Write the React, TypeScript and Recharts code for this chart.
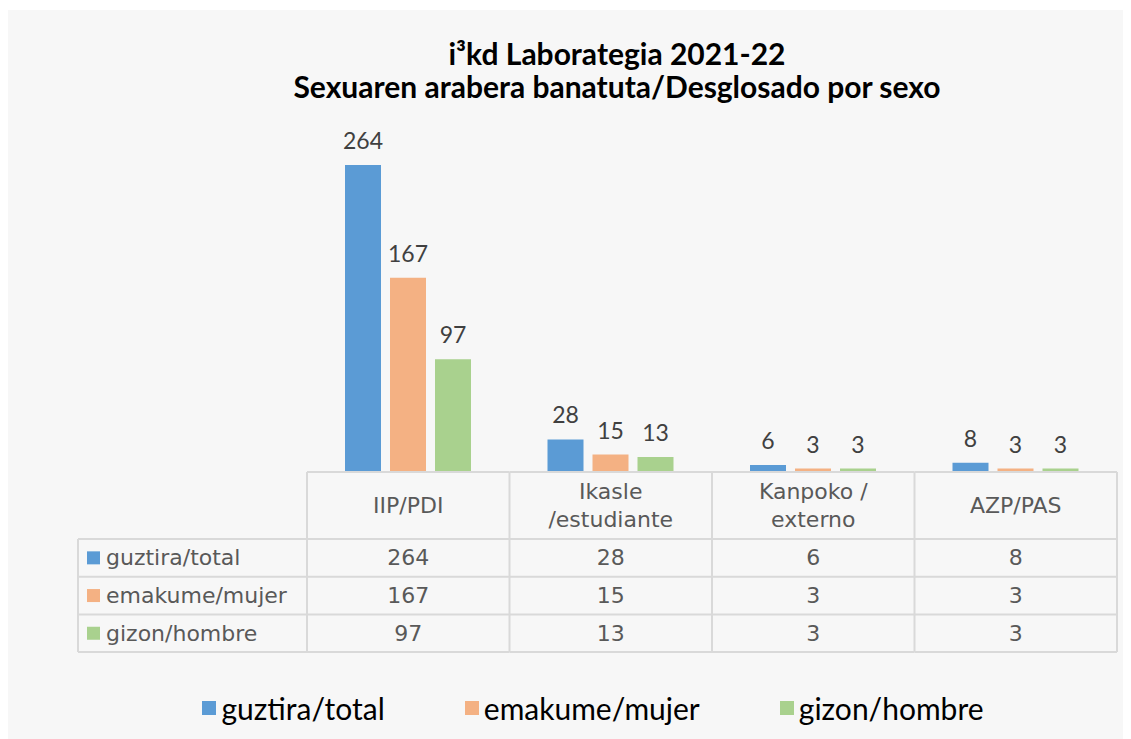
import React from 'react';
import { BarChart, Bar, XAxis, YAxis, LabelList, Legend } from 'recharts';

const titleLines = ['i³kd Laborategia 2021-22', 'Sexuaren arabera banatuta/Desglosado por sexo'];
const categories = ['IIP/PDI', 'Ikasle\n/estudiante', 'Kanpoko /\nexterno', 'AZP/PAS'];
const totalValues = [264, 28, 6, 8];
const womenValues = [167, 15, 3, 3];
const menValues = [97, 13, 3, 3];
const seriesKeys = ['total', 'women', 'men'];
const seriesNames = ['guztira/total', 'emakume/mujer', 'gizon/hombre'];
const seriesColors = ['#5B9BD5', '#F4B183', '#A9D18E'];
const seriesValues = [totalValues, womenValues, menValues];
const yDomain = [0, 300];

const data = categories.map((name, i) => ({
  name,
  total: totalValues[i],
  women: womenValues[i],
  men: menValues[i],
}));

const CHART_W = 1123;
const CHART_H = 729;
const MARGIN = { top: 113, right: 14, left: 299, bottom: 197 };
const PLOT_W = CHART_W - MARGIN.left - MARGIN.right;
const BAND = PLOT_W / categories.length;
const HEADER_H = 67;
const ROW_H = 37.7;
const LEFT_COL_W = 229;
const LINE = '#d9d9d9';
const TABLE_FONT = "'DejaVu Sans', sans-serif";
const TABLE_FS = 22;
const TEXT_GRAY = '#595959';

function TableTick(props: any) {
  const { x, y, payload } = props;
  const i: number = payload && typeof payload.index === 'number' ? payload.index : props.index;
  const half = BAND / 2;
  const left = x - half;
  const right = x + half;
  const rowsTop = y + HEADER_H;
  const bottom = rowsTop + ROW_H * seriesKeys.length;
  const els: any[] = [];
  const hys = [y, rowsTop];
  for (let r = 1; r <= seriesKeys.length; r++) hys.push(rowsTop + ROW_H * r);
  hys.forEach((hy, k) => {
    els.push(<line key={'h' + k} x1={left} x2={right} y1={hy} y2={hy} stroke={LINE} strokeWidth={2} />);
  });
  els.push(<line key="vl" x1={left} x2={left} y1={y} y2={bottom} stroke={LINE} strokeWidth={2} />);
  if (i === categories.length - 1) {
    els.push(<line key="vr" x1={right} x2={right} y1={y} y2={bottom} stroke={LINE} strokeWidth={2} />);
  }
  const lines = String(payload.value).split('\n');
  const lh = 28;
  const cy = y + HEADER_H / 2;
  els.push(
    <text key="hdr" x={x} textAnchor="middle" fontSize={TABLE_FS} fontFamily={TABLE_FONT} fill={TEXT_GRAY}>
      {lines.map((ln, k) => (
        <tspan key={k} x={x} y={cy - ((lines.length - 1) * lh) / 2 + k * lh} dominantBaseline="central">
          {ln}
        </tspan>
      ))}
    </text>
  );
  seriesValues.forEach((vals, r) => {
    els.push(
      <text
        key={'v' + r}
        x={x}
        y={rowsTop + ROW_H * (r + 0.5)}
        textAnchor="middle"
        dominantBaseline="central"
        fontSize={TABLE_FS}
        fontFamily={TABLE_FONT}
        fill={TEXT_GRAY}
      >
        {vals[i]}
      </text>
    );
  });
  if (i === 0) {
    const lx = left - LEFT_COL_W;
    for (let r = 0; r <= seriesKeys.length; r++) {
      const hy = rowsTop + ROW_H * r;
      els.push(<line key={'lh' + r} x1={lx} x2={left} y1={hy} y2={hy} stroke={LINE} strokeWidth={2} />);
    }
    els.push(<line key="lv" x1={lx} x2={lx} y1={rowsTop} y2={bottom} stroke={LINE} strokeWidth={2} />);
    seriesNames.forEach((nm, r) => {
      const cyr = rowsTop + ROW_H * (r + 0.5);
      els.push(<rect key={'sq' + r} x={lx + 9} y={cyr - 6.5} width={13} height={13} fill={seriesColors[r]} />);
      els.push(
        <text
          key={'ln' + r}
          x={lx + 28}
          y={cyr}
          dominantBaseline="central"
          fontSize={TABLE_FS}
          fontFamily={TABLE_FONT}
          fill={TEXT_GRAY}
        >
          {nm}
        </text>
      );
    });
  }
  return <g>{els}</g>;
}

function LegendContent(props: any) {
  const payload = [...(props.payload || [])].sort(
    (a: any, b: any) => seriesNames.indexOf(a.value) - seriesNames.indexOf(b.value)
  );
  return (
    <div
      style={{
        height: 40,
        display: 'flex',
        alignItems: 'center',
        justifyContent: 'center',
        paddingLeft: 47,
        gap: 80,
        fontFamily: 'Lato, sans-serif',
        fontSize: 30,
        color: '#000',
      }}
    >
      {payload.map((p: any, k: number) => (
        <div key={k} style={{ display: 'flex', alignItems: 'center' }}>
          <span style={{ display: 'inline-block', width: 14, height: 14, background: p.color, marginRight: 5 }} />
          <span>{p.value}</span>
        </div>
      ))}
    </div>
  );
}

export default function App() {
  return (
    <div style={{ paddingTop: 2 }}>
      <div style={{ position: 'relative', width: CHART_W, height: CHART_H, background: '#f7f7f7', overflow: 'hidden' }}>
        <div
          style={{
            position: 'absolute',
            left: 209,
            top: 27,
            width: 800,
            textAlign: 'center',
            fontFamily: 'Lato, sans-serif',
            fontWeight: 700,
            fontSize: 30,
            lineHeight: '33px',
            color: '#000',
          }}
        >
          {titleLines.map((t, k) => (
            <div key={k}>{t}</div>
          ))}
        </div>
        <BarChart width={CHART_W} height={CHART_H} data={data} margin={MARGIN} barSize={36} barGap={9}>
          <XAxis
            dataKey="name"
            axisLine={false}
            tickLine={false}
            tickSize={0}
            tickMargin={0}
            interval={0}
            height={30}
            tick={<TableTick />}
          />
          <YAxis hide domain={yDomain} />
          <Legend verticalAlign="bottom" content={<LegendContent />} wrapperStyle={{ bottom: 11, left: 0, width: CHART_W }} />
          {seriesKeys.map((k, s) => (
            <Bar key={k} dataKey={k} name={seriesNames[s]} fill={seriesColors[s]} isAnimationActive={false}>
              <LabelList
                dataKey={k}
                position="top"
                offset={16}
                fill="#404040"
                fontSize={23}
                fontFamily="Lato, sans-serif"
              />
            </Bar>
          ))}
        </BarChart>
      </div>
    </div>
  );
}
